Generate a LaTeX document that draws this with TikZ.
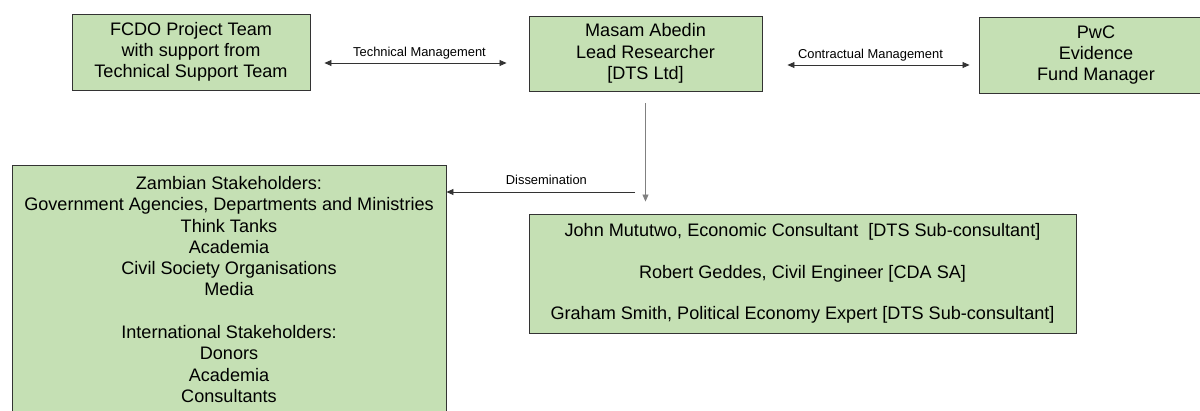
\documentclass[tikz,border=0pt]{standalone}
\usepackage{fontspec}
\setmainfont{Liberation Sans}
\usetikzlibrary{arrows.meta}
\definecolor{boxgreen}{HTML}{C5E0B4}
\definecolor{edgegrey}{HTML}{333333}
\tikzset{
  box/.style={draw=edgegrey, fill=boxgreen, line width=0.9pt, inner sep=0pt, align=center,
    font=\fontsize{18.1}{21.3}\selectfont},
  link/.style={draw=edgegrey, line width=0.8pt, {Triangle[length=7pt,width=6pt]}-{Triangle[length=7pt,width=6pt]}},
  onelink/.style={draw=edgegrey, line width=0.8pt, -{Triangle[length=7pt,width=6pt]}},
  lbl/.style={inner sep=0pt, anchor=base, font=\fontsize{12.9}{15}\selectfont}
}
\begin{document}
\begin{tikzpicture}[x=1pt, y=-1pt]
        \useasboundingbox (0,0) rectangle (1200,410);
        % top row
        \node[box, minimum width=238pt, minimum height=76pt] (fcdo) at (191, 52)
          {FCDO Project Team\\with support from\\Technical Support Team};
        \node[box, minimum width=233pt, minimum height=75pt] (masam) at (645.5, 53.5)
          {Masam Abedin\\Lead Researcher\\{[DTS Ltd]}};
        \node[box, minimum width=234pt, minimum height=76pt] (pwc) at (1096, 55)
          {PwC\\Evidence\\Fund Manager};

        % lower row
        \node[box, minimum width=434pt, minimum height=249pt] (zamb) at (229, 289.5)
          {Zambian Stakeholders:\\Government Agencies, Departments and Ministries\\Think Tanks\\Academia\\Civil Society Organisations\\Media\\[21.3pt]International Stakeholders:\\Donors\\Academia\\Consultants};
        \node[box, minimum width=547pt, minimum height=119pt] (john) at (802.5, 273.5)
          {John Mututwo, Economic Consultant\ \ [DTS Sub-consultant]\\[20.3pt]Robert Geddes, Civil Engineer [CDA SA]\\[20.3pt]Graham Smith, Political Economy Expert [DTS Sub-consultant]};

        % connectors
        \draw[link, shorten <=14pt, shorten >=22pt] ([yshift=-11pt]fcdo.east) -- ([yshift=-9.5pt]masam.west)
          node[lbl, midway, yshift=7pt] {Technical Management};
        \draw[link, shorten <=25pt, shorten >=9pt] ([yshift=-11.5pt]masam.east) -- ([yshift=-10pt]pwc.west)
          node[lbl, midway, yshift=7pt] {Contractual Management};
        \draw[onelink, draw=gray, shorten <=12pt, shorten >=12pt] (masam.south) -- (masam.south |- john.north);
        \coordinate (dstart) at (635, 192);
        \draw[onelink] (dstart) -- (dstart -| zamb.east)
          node[lbl, pos=0.47, yshift=8pt] {Dissemination};
\end{tikzpicture}
\end{document}
